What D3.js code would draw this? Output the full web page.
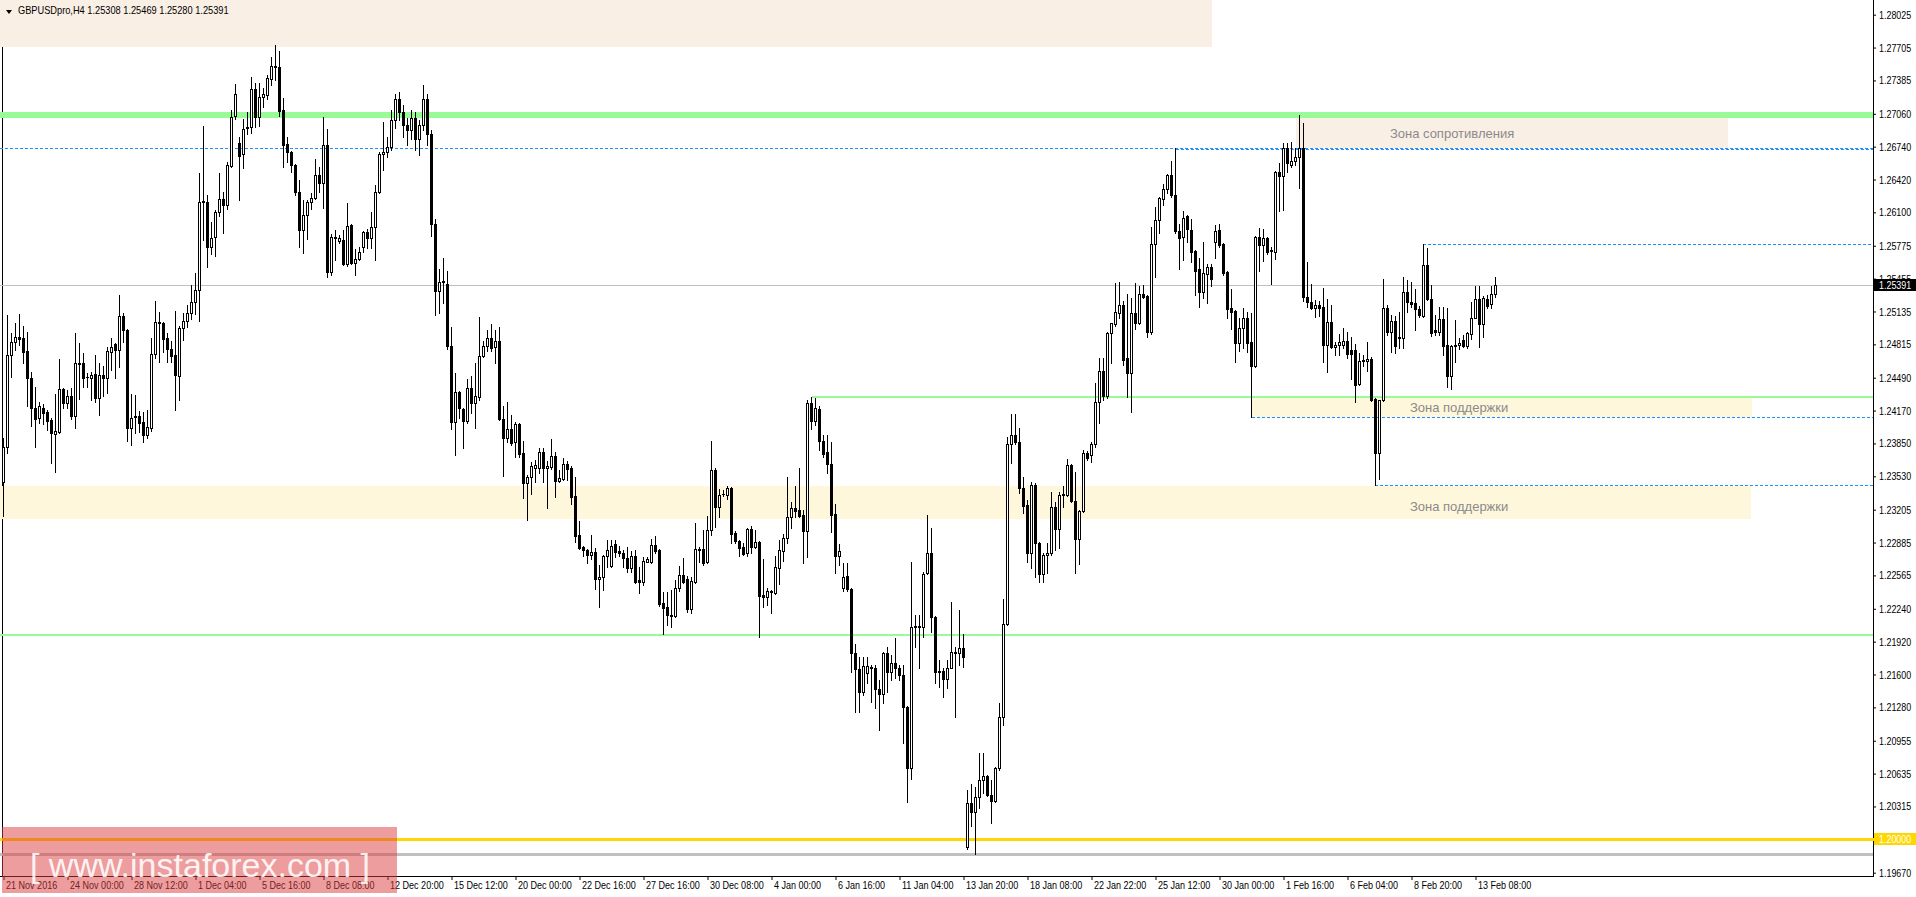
<!DOCTYPE html>
<html><head><meta charset="utf-8">
<script src="https://cdn.jsdelivr.net/npm/d3@7"></script>
<style>
html,body{margin:0;padding:0;background:#fff;overflow:hidden}
svg{display:block}
</style></head><body>
<svg id="chart" width="1916" height="897"></svg>
<script>
const symbol = "GBPUSDpro,H4";
const open = [
1.2347,1.2382,1.2471,1.2484,1.2489,1.2488,1.2475,1.2449,1.2420,1.2410,
1.2420,1.2416,1.2408,1.2394,1.2396,1.2438,1.2424,1.2431,1.2412,1.2462,
1.2463,1.2450,1.2449,1.2453,1.2429,1.2452,1.2449,1.2474,1.2482,1.2476,
1.2509,1.2495,1.2400,1.2411,1.2412,1.2406,1.2393,1.2400,1.2472,1.2503,
1.2502,1.2488,1.2477,1.2471,1.2451,1.2497,1.2504,1.2512,1.2523,1.2534,
1.2620,1.2620,1.2576,1.2586,1.2610,1.2623,1.2617,1.2655,1.2704,1.2678,
1.2667,1.2692,1.2693,1.2730,1.2703,1.2722,1.2724,1.2740,1.2752,1.2752,
1.2710,1.2677,1.2669,1.2656,1.2630,1.2593,1.2607,1.2620,1.2624,1.2646,
1.2639,1.2676,1.2552,1.2586,1.2582,1.2583,1.2560,1.2598,1.2561,1.2565,
1.2576,1.2591,1.2585,1.2596,1.2630,1.2667,1.2669,1.2674,1.2700,1.2720,
1.2708,1.2695,1.2690,1.2702,1.2681,1.2695,1.2720,1.2686,1.2599,1.2533,
1.2542,1.2540,1.2480,1.2406,1.2435,1.2419,1.2407,1.2439,1.2424,1.2430,
1.2470,1.2480,1.2488,1.2479,1.2485,1.2409,1.2390,1.2399,1.2386,1.2404,
1.2376,1.2346,1.2352,1.2361,1.2361,1.2377,1.2361,1.2362,1.2373,1.2348,
1.2350,1.2365,1.2361,1.2334,1.2296,1.2284,1.2281,1.2276,1.2279,1.2253,
1.2255,1.2275,1.2266,1.2287,1.2280,1.2278,1.2273,1.2264,1.2275,1.2252,
1.2250,1.2270,1.2270,1.2286,1.2281,1.2230,1.2226,1.2217,1.2217,1.2244,
1.2257,1.2253,1.2224,1.2250,1.2282,1.2282,1.2270,1.2301,1.2359,1.2323,
1.2336,1.2335,1.2342,1.2298,1.2290,1.2284,1.2278,1.2302,1.2284,1.2289,
1.2237,1.2235,1.2241,1.2239,1.2264,1.2280,1.2293,1.2313,1.2322,1.2320,
1.2315,1.2300,1.2424,1.2407,1.2419,1.2387,1.2377,1.2365,1.2316,1.2275,
1.2244,1.2256,1.2243,1.2181,1.2165,1.2143,1.2161,1.2167,1.2166,1.2146,
1.2141,1.2181,1.2162,1.2171,1.2166,1.2160,1.2128,1.2069,1.2206,1.2206,
1.2206,1.2259,1.2278,1.2216,1.2163,1.2163,1.2156,1.2166,1.2182,1.2181,
1.2186,1.1992,1.2035,1.2026,1.2041,1.2057,1.2061,1.2043,1.2037,1.2069,
1.2119,1.2209,1.2384,1.2393,1.2386,1.2342,1.2325,1.2278,1.2345,1.2288,
1.2258,1.2276,1.2278,1.2323,1.2302,1.2335,1.2335,1.2364,1.2329,1.2292,
1.2319,1.2376,1.2374,1.2384,1.2425,1.2456,1.2431,1.2493,1.2501,1.2512,
1.2520,1.2468,1.2454,1.2512,1.2502,1.2531,1.2529,1.2494,1.2579,1.2603,
1.2623,1.2633,1.2646,1.2627,1.2592,1.2586,1.2606,1.2593,1.2572,1.2555,
1.2532,1.2550,1.2557,1.2581,1.2593,1.2579,1.2552,1.2517,1.2514,1.2483,
1.2497,1.2507,1.2484,1.2460,1.2586,1.2578,1.2585,1.2573,1.2571,1.2649,
1.2645,1.2673,1.2656,1.2660,1.2664,1.2673,1.2528,1.2523,1.2517,1.2520,
1.2518,1.2481,1.2503,1.2479,1.2481,1.2481,1.2485,1.2476,1.2476,1.2443,
1.2465,1.2465,1.2467,1.2428,1.2376,1.2427,1.2517,1.2494,1.2504,1.2489,
1.2488,1.2532,1.2523,1.2522,1.2516,1.2509,1.2559,1.2526,1.2495,1.2494,
1.2506,1.2481,1.2451,1.2480,1.2481,1.2486,1.2480,1.2492,1.2507,1.2526,
1.2501,1.2526,1.2521,1.25308];
const high = [
1.2390,1.2510,1.2493,1.2502,1.2511,1.2499,1.2494,1.2455,1.2440,1.2425,
1.2423,1.2418,1.2410,1.2433,1.2467,1.2439,1.2437,1.2439,1.2493,1.2483,
1.2473,1.2454,1.2455,1.2471,1.2463,1.2460,1.2479,1.2488,1.2483,1.2530,
1.2512,1.2496,1.2433,1.2432,1.2417,1.2416,1.2418,1.2488,1.2524,1.2513,
1.2503,1.2493,1.2485,1.2514,1.2499,1.2512,1.2520,1.2539,1.2551,1.2648,
1.2694,1.2627,1.2601,1.2612,1.2648,1.2630,1.2659,1.2710,1.2735,1.2683,
1.2701,1.2708,1.2742,1.2736,1.2736,1.2731,1.2744,1.2761,1.2773,1.2767,
1.2721,1.2683,1.2670,1.2657,1.2642,1.2622,1.2622,1.2629,1.2662,1.2654,
1.2703,1.2691,1.2589,1.2593,1.2588,1.2593,1.2619,1.2599,1.2574,1.2576,
1.2592,1.2594,1.2610,1.2637,1.2669,1.2698,1.2683,1.2710,1.2725,1.2727,
1.2715,1.2702,1.2710,1.2708,1.2700,1.2734,1.2725,1.2690,1.2604,1.2555,
1.2566,1.2553,1.2498,1.2454,1.2436,1.2420,1.2448,1.2451,1.2463,1.2508,
1.2485,1.2495,1.2501,1.2495,1.2498,1.2421,1.2425,1.2413,1.2406,1.2405,
1.2387,1.2354,1.2367,1.2369,1.2381,1.2381,1.2368,1.2389,1.2377,1.2359,
1.2371,1.2368,1.2363,1.2352,1.2309,1.2285,1.2282,1.2296,1.2283,1.2267,
1.2276,1.2291,1.2291,1.2291,1.2285,1.2281,1.2284,1.2280,1.2281,1.2265,
1.2274,1.2274,1.2292,1.2295,1.2282,1.2240,1.2240,1.2242,1.2252,1.2266,
1.2273,1.2256,1.2255,1.2308,1.2284,1.2301,1.2314,1.2387,1.2361,1.2341,
1.2340,1.2344,1.2343,1.2300,1.2291,1.2288,1.2303,1.2305,1.2301,1.2290,
1.2272,1.2244,1.2242,1.2275,1.2291,1.2297,1.2352,1.2328,1.2344,1.2361,
1.2320,1.2427,1.2430,1.2429,1.2421,1.2393,1.2393,1.2386,1.2326,1.2287,
1.2269,1.2269,1.2244,1.2190,1.2177,1.2177,1.2177,1.2169,1.2169,1.2155,
1.2182,1.2187,1.2179,1.2196,1.2169,1.2169,1.2129,1.2270,1.2218,1.2218,
1.2260,1.2315,1.2303,1.2217,1.2174,1.2166,1.2174,1.2231,1.2187,1.2223,
1.2199,1.2048,1.2053,1.2050,1.2084,1.2084,1.2062,1.2057,1.2070,1.2132,
1.2234,1.2391,1.2414,1.2414,1.2400,1.2352,1.2330,1.2347,1.2346,1.2289,
1.2278,1.2288,1.2338,1.2328,1.2338,1.2344,1.2370,1.2365,1.2357,1.2320,
1.2379,1.2378,1.2386,1.2444,1.2468,1.2468,1.2494,1.2502,1.2541,1.2542,
1.2524,1.2531,1.2527,1.2541,1.2538,1.2539,1.2530,1.2596,1.2615,1.2625,
1.2638,1.2647,1.2660,1.2673,1.2599,1.2611,1.2607,1.2604,1.2573,1.2566,
1.2581,1.2560,1.2560,1.2598,1.2599,1.2580,1.2553,1.2535,1.2515,1.2507,
1.2517,1.2513,1.2512,1.2587,1.2595,1.2594,1.2586,1.2576,1.2650,1.2658,
1.2678,1.2678,1.2679,1.2673,1.2705,1.2697,1.2562,1.2540,1.2525,1.2524,
1.2536,1.2526,1.2520,1.2484,1.2492,1.2497,1.2494,1.2489,1.2482,1.2473,
1.2471,1.2484,1.2469,1.2429,1.2427,1.2545,1.2520,1.2510,1.2509,1.2513,
1.2547,1.2544,1.2542,1.2535,1.2519,1.2579,1.2575,1.2539,1.2510,1.2518,
1.2518,1.2517,1.2481,1.2505,1.2488,1.2491,1.2494,1.2523,1.2538,1.2538,
1.2529,1.2530,1.2538,1.25469];
const low = [
1.2314,1.2376,1.2450,1.2476,1.2481,1.2463,1.2421,1.2402,1.2382,1.2405,
1.2404,1.2398,1.2366,1.2357,1.2395,1.2420,1.2420,1.2409,1.2400,1.2428,
1.2440,1.2440,1.2427,1.2425,1.2413,1.2431,1.2434,1.2457,1.2449,1.2459,
1.2484,1.2387,1.2383,1.2395,1.2396,1.2386,1.2390,1.2397,1.2468,1.2464,
1.2474,1.2464,1.2464,1.2418,1.2427,1.2486,1.2498,1.2506,1.2511,1.2504,
1.2583,1.2557,1.2569,1.2568,1.2606,1.2590,1.2613,1.2654,1.2701,1.2622,
1.2653,1.2686,1.2687,1.2693,1.2694,1.2713,1.2720,1.2734,1.2739,1.2704,
1.2654,1.2659,1.2649,1.2627,1.2576,1.2570,1.2584,1.2613,1.2623,1.2630,
1.2614,1.2547,1.2549,1.2564,1.2580,1.2559,1.2558,1.2560,1.2549,1.2564,
1.2571,1.2575,1.2575,1.2564,1.2629,1.2651,1.2664,1.2671,1.2692,1.2700,
1.2683,1.2676,1.2681,1.2671,1.2666,1.2690,1.2676,1.2587,1.2510,1.2512,
1.2522,1.2477,1.2399,1.2374,1.2410,1.2381,1.2405,1.2415,1.2400,1.2427,
1.2469,1.2475,1.2475,1.2463,1.2408,1.2353,1.2386,1.2383,1.2372,1.2372,
1.2332,1.2310,1.2336,1.2347,1.2356,1.2347,1.2322,1.2360,1.2333,1.2347,
1.2349,1.2349,1.2326,1.2289,1.2282,1.2275,1.2269,1.2272,1.2243,1.2226,
1.2242,1.2265,1.2265,1.2274,1.2275,1.2265,1.2260,1.2260,1.2249,1.2239,
1.2247,1.2270,1.2269,1.2278,1.2227,1.2199,1.2208,1.2206,1.2216,1.2241,
1.2249,1.2221,1.2220,1.2249,1.2270,1.2267,1.2269,1.2296,1.2304,1.2313,
1.2334,1.2331,1.2288,1.2288,1.2275,1.2276,1.2275,1.2278,1.2283,1.2197,
1.2226,1.2228,1.2220,1.2238,1.2248,1.2271,1.2288,1.2303,1.2313,1.2313,
1.2269,1.2274,1.2399,1.2403,1.2379,1.2372,1.2356,1.2299,1.2259,1.2267,
1.2241,1.2241,1.2162,1.2123,1.2123,1.2140,1.2152,1.2133,1.2127,1.2106,
1.2132,1.2143,1.2155,1.2157,1.2155,1.2093,1.2036,1.2058,1.2187,1.2166,
1.2197,1.2258,1.2201,1.2152,1.2148,1.2138,1.2147,1.2166,1.2119,1.2169,
1.2167,1.1990,1.2012,1.1985,1.2030,1.2045,1.2042,1.2015,1.2036,1.2067,
1.2111,1.2208,1.2366,1.2384,1.2337,1.2317,1.2270,1.2264,1.2255,1.2250,
1.2250,1.2259,1.2276,1.2281,1.2283,1.2323,1.2334,1.2328,1.2259,1.2268,
1.2318,1.2369,1.2367,1.2382,1.2405,1.2427,1.2429,1.2463,1.2499,1.2507,
1.2461,1.2430,1.2416,1.2496,1.2501,1.2527,1.2489,1.2492,1.2547,1.2590,
1.2617,1.2629,1.2625,1.2590,1.2555,1.2564,1.2581,1.2562,1.2530,1.2518,
1.2527,1.2522,1.2538,1.2566,1.2576,1.2549,1.2507,1.2496,1.2464,1.2475,
1.2478,1.2474,1.2411,1.2459,1.2553,1.2563,1.2569,1.2540,1.2565,1.2611,
1.2612,1.2649,1.2654,1.2656,1.2634,1.2524,1.2518,1.2516,1.2508,1.2509,
1.2464,1.2455,1.2478,1.2471,1.2471,1.2478,1.2468,1.2448,1.2425,1.2442,
1.2460,1.2456,1.2426,1.2345,1.2350,1.2426,1.2491,1.2474,1.2473,1.2478,
1.2478,1.2513,1.2518,1.2495,1.2508,1.2508,1.2525,1.2490,1.2491,1.2491,
1.2471,1.2440,1.2438,1.2464,1.2477,1.2479,1.2478,1.2487,1.2507,1.2479,
1.2489,1.2517,1.2517,1.25280];
const close = [
1.2382,1.2471,1.2484,1.2489,1.2487,1.2474,1.2449,1.2420,1.2409,1.2421,
1.2415,1.2407,1.2395,1.2397,1.2438,1.2424,1.2431,1.2412,1.2463,1.2463,
1.2449,1.2450,1.2452,1.2429,1.2452,1.2449,1.2475,1.2479,1.2476,1.2509,
1.2495,1.2400,1.2410,1.2412,1.2405,1.2393,1.2401,1.2472,1.2503,1.2502,
1.2487,1.2477,1.2470,1.2452,1.2497,1.2504,1.2512,1.2523,1.2534,1.2620,
1.2621,1.2576,1.2585,1.2610,1.2623,1.2617,1.2656,1.2703,1.2725,1.2665,
1.2691,1.2693,1.2730,1.2703,1.2722,1.2725,1.2741,1.2753,1.2753,1.2709,
1.2676,1.2669,1.2656,1.2630,1.2593,1.2607,1.2620,1.2624,1.2646,1.2639,
1.2676,1.2552,1.2586,1.2585,1.2585,1.2560,1.2597,1.2561,1.2565,1.2571,
1.2591,1.2585,1.2596,1.2630,1.2667,1.2669,1.2674,1.2700,1.2720,1.2708,
1.2695,1.2690,1.2702,1.2681,1.2695,1.2720,1.2686,1.2599,1.2533,1.2542,
1.2543,1.2480,1.2406,1.2435,1.2420,1.2407,1.2439,1.2424,1.2431,1.2470,
1.2480,1.2488,1.2478,1.2485,1.2409,1.2390,1.2399,1.2385,1.2404,1.2375,
1.2346,1.2352,1.2363,1.2364,1.2377,1.2361,1.2363,1.2373,1.2348,1.2351,
1.2365,1.2360,1.2333,1.2295,1.2283,1.2281,1.2276,1.2279,1.2253,1.2255,
1.2275,1.2281,1.2285,1.2279,1.2278,1.2273,1.2264,1.2275,1.2250,1.2250,
1.2271,1.2272,1.2286,1.2280,1.2229,1.2225,1.2218,1.2218,1.2244,1.2257,
1.2250,1.2224,1.2251,1.2282,1.2281,1.2269,1.2301,1.2359,1.2323,1.2335,
1.2336,1.2342,1.2297,1.2290,1.2283,1.2277,1.2302,1.2284,1.2289,1.2236,
1.2235,1.2241,1.2240,1.2265,1.2281,1.2293,1.2313,1.2322,1.2319,1.2314,
1.2300,1.2424,1.2407,1.2420,1.2387,1.2375,1.2365,1.2315,1.2275,1.2280,
1.2255,1.2243,1.2181,1.2165,1.2143,1.2168,1.2168,1.2166,1.2146,1.2141,
1.2181,1.2162,1.2171,1.2166,1.2160,1.2128,1.2069,1.2206,1.2207,1.2207,
1.2258,1.2278,1.2216,1.2162,1.2162,1.2156,1.2166,1.2182,1.2181,1.2186,
1.2177,1.2035,1.2026,1.2041,1.2057,1.2061,1.2043,1.2037,1.2069,1.2119,
1.2209,1.2384,1.2393,1.2386,1.2342,1.2324,1.2278,1.2345,1.2288,1.2258,
1.2276,1.2278,1.2323,1.2302,1.2335,1.2336,1.2364,1.2329,1.2292,1.2319,
1.2376,1.2371,1.2384,1.2425,1.2456,1.2431,1.2493,1.2502,1.2513,1.2520,
1.2466,1.2454,1.2512,1.2502,1.2531,1.2528,1.2494,1.2579,1.2603,1.2624,
1.2633,1.2646,1.2627,1.2592,1.2585,1.2605,1.2594,1.2571,1.2553,1.2532,
1.2551,1.2557,1.2545,1.2592,1.2578,1.2551,1.2516,1.2513,1.2483,1.2497,
1.2507,1.2483,1.2460,1.2586,1.2578,1.2585,1.2571,1.2572,1.2649,1.2645,
1.2673,1.2658,1.2660,1.2664,1.2673,1.2528,1.2523,1.2517,1.2520,1.2517,
1.2481,1.2503,1.2479,1.2481,1.2484,1.2485,1.2472,1.2472,1.2442,1.2465,
1.2466,1.2467,1.2427,1.2376,1.2427,1.2517,1.2494,1.2504,1.2480,1.2488,
1.2532,1.2523,1.2521,1.2516,1.2510,1.2559,1.2526,1.2493,1.2494,1.2506,
1.2480,1.2451,1.2480,1.2481,1.2483,1.2480,1.2493,1.2507,1.2526,1.2501,
1.2527,1.2519,1.2531,1.25391];

const priceTicks = [1.28025,1.27705,1.27385,1.27060,1.26740,1.26420,1.26100,1.25775,1.25455,1.25135,
  1.24815,1.24490,1.24170,1.23850,1.23530,1.23205,1.22885,1.22565,1.22240,1.21920,1.21600,1.21280,
  1.20955,1.20635,1.20315,1.19670];
const timeLabels = ["21 Nov 2016","24 Nov 00:00","28 Nov 12:00","1 Dec 04:00","5 Dec 16:00","8 Dec 08:00",
  "12 Dec 20:00","15 Dec 12:00","20 Dec 00:00","22 Dec 16:00","27 Dec 16:00","30 Dec 08:00","4 Jan 00:00",
  "6 Jan 16:00","11 Jan 04:00","13 Jan 20:00","18 Jan 08:00","22 Jan 22:00","25 Jan 12:00","30 Jan 00:00",
  "1 Feb 16:00","6 Feb 04:00","8 Feb 20:00","13 Feb 08:00"];
const timeLabelBars = [0,16,32,48,64,80,96,112,128,144,160,176,192,208,224,240,256,272,288,304,320,336,352,368];

// zones (price ranges, bar-index ranges)
const zoneText = ["", "Зона сопротивления", "Зона поддержки", "Зона поддержки"];
const zoneHigh = [1.2900, 1.2702, 1.2430, 1.2344];
const zoneLow  = [1.2771, 1.2673, 1.2410, 1.2311];
const zoneFromBar = [-1, 323, 312, -1];
const zoneToBar = [302, 431, 437, 437];
const zoneKind = ["res", "res", "sup", "sup"];
const zoneTextBar = [0, 346.6, 351.6, 351.6];
const zoneTextPrice = [0, 1.26827, 1.24153, 1.23195];

// horizontal levels
const greenLevels = [1.2705, 1.2430, 1.2198];
const greenFromBar = [-1, 202, -1];
const dashedLevels = [1.2673, 1.26715, 1.2579, 1.2411, 1.2345];
const dashedFromBar = [-1, 293, 355, 312, 343];
const roundLevel = 1.2000;
const greyLevel = 1.1985;

const W = 1916, H = 897, plotR = 1873, plotB = 876;
const sans = '"Liberation Sans",Arial,sans-serif';
const svg = d3.select("#chart");
const n = open.length;
const x = d3.scaleLinear().domain([0, n - 1]).range([3.5, 3.5 + 4 * (n - 1)]);
const y = d3.scaleLinear().domain([d3.min(priceTicks), d3.max(priceTicks)]).range([872.7, 14.7]);

function squeeze(sel, f) {
  sel.each(function () {
    const L = this.getComputedTextLength();
    d3.select(this).attr("textLength", (L * f).toFixed(1)).attr("lengthAdjust", "spacingAndGlyphs");
  });
}

svg.append("defs").append("clipPath").attr("id", "plot")
  .append("rect").attr("x", 0).attr("y", 0).attr("width", plotR).attr("height", plotB);

// frame
svg.append("line").attr("x1", 2.5).attr("x2", 2.5).attr("y1", 0).attr("y2", plotB).attr("stroke", "#000");

const gp = svg.append("g").attr("clip-path", "url(#plot)");

// zones
zoneHigh.forEach((hi, k) => {
  const x0 = k === 0 || zoneFromBar[k] < 0 ? 0 : x(zoneFromBar[k]);
  const x1 = x(zoneToBar[k]);
  gp.append("rect").attr("x", Math.round(x0)).attr("width", Math.round(x1 - x0))
    .attr("y", Math.round(y(hi))).attr("height", Math.round(y(zoneLow[k])) - Math.round(y(hi)))
    .attr("fill", zoneKind[k] === "res" ? "#FAEFE5" : "#FFF7DC");
});

// price line (current)
const last = close[n - 1];
gp.append("rect").attr("x", 0).attr("width", plotR).attr("y", Math.round(y(last))).attr("height", 1).attr("fill", "#C0C0C0");

// green levels
greenLevels.forEach((p, k) => {
  const w = k === 0 ? 6 : 2;
  const x0 = greenFromBar[k] < 0 ? 0 : x(greenFromBar[k]);
  gp.append("rect").attr("x", Math.round(x0)).attr("width", plotR - Math.round(x0))
    .attr("y", Math.round(y(p) - w / 2)).attr("height", w).attr("fill", "#98FB98");
});
// dashed levels
dashedLevels.forEach((p, k) => {
  const x0 = dashedFromBar[k] < 0 ? 0 : x(dashedFromBar[k]);
  gp.append("line").attr("x1", Math.round(x0)).attr("x2", plotR)
    .attr("y1", Math.round(y(p)) + 0.5).attr("y2", Math.round(y(p)) + 0.5)
    .attr("stroke", "#1E90FF").attr("stroke-width", 1).attr("stroke-dasharray", "3,2");
});
// round level & grey level
gp.append("rect").attr("x", 0).attr("width", plotR).attr("y", Math.round(y(roundLevel)) - 1).attr("height", 3).attr("fill", "#FFD700");
gp.append("rect").attr("x", 0).attr("width", plotR).attr("y", Math.round(y(greyLevel)) - 1).attr("height", 3).attr("fill", "#C0C0C0");

// candles
const gc = gp.append("g");
for (let i = 0; i < n; i++) {
  const cx = x(i);
  const yh = Math.round(y(high[i])), yl = Math.round(y(low[i]));
  gc.append("rect").attr("x", cx - 0.5).attr("width", 1).attr("y", yh).attr("height", Math.max(1, yl - yh + 1)).attr("fill", "#000");
  const top = Math.round(y(Math.max(open[i], close[i])));
  const bot = Math.round(y(Math.min(open[i], close[i])));
  gc.append("rect").attr("x", cx - 1.5).attr("width", 3).attr("y", top).attr("height", bot - top + 1).attr("fill", "#000");
  if (close[i] > open[i] && bot - top > 1) {
    gc.append("rect").attr("x", cx - 0.5).attr("width", 1).attr("y", top + 1).attr("height", bot - top - 1).attr("fill", "#fff");
  }
}

// zone texts
zoneText.forEach((t, k) => {
  if (!t) return;
  gp.append("text").attr("x", x(zoneTextBar[k])).attr("y", y(zoneTextPrice[k]))
    .attr("font-family", sans).attr("font-size", 13)
    .attr("fill", "#8A8A8A").text(t);
});

// axes frame
svg.append("line").attr("x1", 0).attr("x2", plotR + 0.5).attr("y1", plotB + 0.5).attr("y2", plotB + 0.5).attr("stroke", "#000");
svg.append("line").attr("x1", plotR + 0.5).attr("x2", plotR + 0.5).attr("y1", 0).attr("y2", plotB + 1).attr("stroke", "#000");

// price axis
const gy = svg.append("g").attr("transform", `translate(${plotR},0)`)
  .call(d3.axisRight(y).tickValues(priceTicks).tickFormat(d3.format(".5f")).tickSize(3).tickPadding(3));
gy.select(".domain").remove();
gy.selectAll(".tick line").attr("stroke", "#000");
gy.selectAll(".tick text").attr("font-family", sans).attr("font-size", 11).attr("fill", "#000");
squeeze(gy.selectAll(".tick text"), 0.81);

// current price tag
const tagY = Math.round(y(last));
svg.append("rect").attr("x", plotR + 1).attr("y", tagY - 6).attr("width", W - plotR - 1).attr("height", 12).attr("fill", "#000");
const t1 = svg.append("text").attr("x", plotR + 6).attr("y", tagY).attr("dy", "0.36em").attr("font-family", sans)
  .attr("font-size", 11).attr("fill", "#fff").text(d3.format(".5f")(last));
squeeze(t1, 0.81);
// round level tag
const ry = Math.round(y(roundLevel));
svg.append("rect").attr("x", plotR + 1).attr("y", ry - 6).attr("width", W - plotR - 1).attr("height", 12).attr("fill", "#FFD700");
const t2 = svg.append("text").attr("x", plotR + 6).attr("y", ry).attr("dy", "0.36em").attr("font-family", sans)
  .attr("font-size", 11).attr("fill", "#fff").text(d3.format(".5f")(roundLevel));
squeeze(t2, 0.81);
svg.append("rect").attr("x", plotR - 2).attr("y", ry - 1).attr("width", 3).attr("height", 3).attr("fill", "#FFD700");

// time axis
const gx = svg.append("g").attr("transform", `translate(0,${plotB})`)
  .call(d3.axisBottom(x).tickValues(timeLabelBars).tickFormat((d, k) => timeLabels[k]).tickSize(4).tickPadding(2));
gx.select(".domain").remove();
gx.selectAll(".tick line").attr("stroke", "#000");
gx.selectAll(".tick text").attr("font-family", sans).attr("font-size", 11).attr("fill", "#000")
  .attr("text-anchor", "start").attr("x", 2).attr("y", 5).attr("dy", "0.71em");
squeeze(gx.selectAll(".tick text"), 0.82);

// title
svg.append("path").attr("d", "M6,10 L12,10 L9,14 Z").attr("fill", "#000");
const tt = svg.append("text").attr("x", 18).attr("y", 14).attr("font-family", sans).attr("font-size", 11).attr("fill", "#000")
  .text(symbol + "  " + [open[n - 1], high[n - 1], low[n - 1], close[n - 1]].map(d3.format(".5f")).join(" "));
squeeze(tt, 0.84);

// watermark
svg.append("rect").attr("x", 2).attr("y", 827).attr("width", 395).attr("height", 66)
  .attr("fill", "rgb(220,60,60)").attr("fill-opacity", 0.5);
svg.append("text").attr("x", 200).attr("y", 877).attr("text-anchor", "middle")
  .attr("font-family", sans).attr("font-size", 34).attr("fill", "#fff")
  .attr("fill-opacity", 0.9).text("[ www.instaforex.com ]");
</script>
</body></html>
